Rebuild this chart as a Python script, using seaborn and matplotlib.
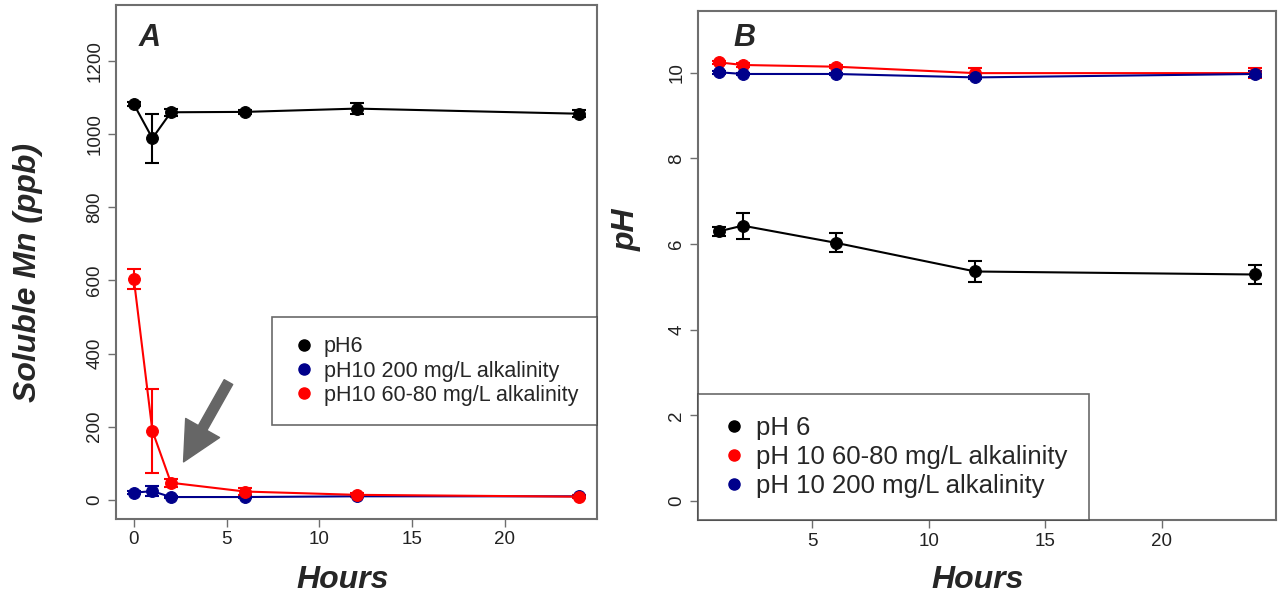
import numpy as np
import pandas as pd
import matplotlib
matplotlib.use("Agg")
import matplotlib.pyplot as plt
from matplotlib.lines import Line2D
import seaborn as sns

# ---------------- data ----------------
hours_a = [0, 1, 2, 6, 12, 24]
mn_ph6 = [1081, 988, 1059, 1060, 1069, 1055]
mn_ph6_err = [5, 67, 10, 6, 15, 9]
mn_ph10_200 = [20, 24, 8, 8, 10, 10]
mn_ph10_200_err = [4, 13, 3, 3, 3, 3]
mn_ph10_6080 = [604, 189, 47, 23, 14, 9]
mn_ph10_6080_err = [27, 115, 11, 10, 5, 4]

hours_b = [1, 2, 6, 12, 24]
ph_ph6 = [6.30, 6.43, 6.03, 5.36, 5.29]
ph_ph6_err = [0.10, 0.30, 0.22, 0.24, 0.22]
ph_ph10_6080 = [10.24, 10.18, 10.14, 9.99, 9.99]
ph_ph10_6080_err = [0.04, 0.04, 0.04, 0.12, 0.12]
ph_ph10_200 = [10.01, 9.97, 9.97, 9.89, 9.97]
ph_ph10_200_err = [0.03, 0.03, 0.03, 0.04, 0.06]

labels_a = ["pH6", "pH10 200 mg/L alkalinity", "pH10 60-80 mg/L alkalinity"]
labels_b = ["pH 6", "pH 10 60-80 mg/L alkalinity", "pH 10 200 mg/L alkalinity"]

BLACK = "#000000"
RED = "#FF0000"
BLUE = "#00008B"
GRAY = "#6E6E6E"

sns.set_theme(style="white")
plt.rcParams["font.family"] = ["Liberation Sans", "DejaVu Sans"]

fig = plt.figure(figsize=(12.78, 5.99), dpi=100)
axA = fig.add_axes([116/1278, 1-519/599, (597-116)/1278, (519-5)/599])
axB = fig.add_axes([698/1278, 1-520/599, (1276-698)/1278, (520-11)/599])


def draw(ax, x, y, err, color, label):
    df = pd.DataFrame({"x": x, "y": y})
    ax.errorbar(x, y, yerr=err, fmt="none", ecolor=color, elinewidth=1.5,
                capsize=5, capthick=1.5, zorder=2)
    sns.lineplot(data=df, x="x", y="y", ax=ax, color=color, linewidth=1.5,
                 marker="o", markersize=8.5, markeredgecolor=color,
                 label=label, legend=False, zorder=3)


# Panel A
draw(axA, hours_a, mn_ph6, mn_ph6_err, BLACK, labels_a[0])
draw(axA, hours_a, mn_ph10_200, mn_ph10_200_err, BLUE, labels_a[1])
draw(axA, hours_a, mn_ph10_6080, mn_ph10_6080_err, RED, labels_a[2])
axA.set_xlim(-0.96, 24.96)
axA.set_ylim(-52, 1352)
axA.set_xticks([0, 5, 10, 15, 20])
axA.set_yticks([0, 200, 400, 600, 800, 1000, 1200])

# Panel B
draw(axB, hours_b, ph_ph6, ph_ph6_err, BLACK, labels_b[0])
draw(axB, hours_b, ph_ph10_6080, ph_ph10_6080_err, RED, labels_b[1])
draw(axB, hours_b, ph_ph10_200, ph_ph10_200_err, BLUE, labels_b[2])
axB.set_xlim(0.08, 24.92)
axB.set_ylim(-0.44, 11.44)
axB.set_xticks([5, 10, 15, 20])
axB.set_yticks([0, 2, 4, 6, 8, 10])

for ax in (axA, axB):
    for s in ax.spines.values():
        s.set_color(GRAY)
        s.set_linewidth(1.5)
    ax.tick_params(axis="both", direction="out", length=6, width=1.0,
                   color=GRAY, labelcolor="#222222", labelsize=13.5,
                   bottom=True, left=True, pad=3)
    for lab in ax.get_yticklabels():
        lab.set_rotation(90)
        lab.set_va("center")
    ax.set_xlabel("Hours", fontsize=23, fontweight="bold", fontstyle="italic")
    ax.xaxis.label.set_va("center")
    ax.grid(False)

axA.xaxis.set_label_coords(0.472, -0.119)
axB.xaxis.set_label_coords(0.484, -0.118)

axA.set_ylabel("Soluble Mn (ppb)", fontsize=23, fontweight="bold", fontstyle="italic")
axA.yaxis.set_label_coords(-0.152, 0.48)
axB.set_ylabel("pH", fontsize=23, fontweight="bold", fontstyle="italic")
axB.yaxis.set_label_coords(-0.097, 0.57)

axA.text(0.07, 0.936, "A", transform=axA.transAxes, fontsize=22,
         fontweight="bold", fontstyle="italic", ha="center", va="center")
axB.text(0.081, 0.947, "B", transform=axB.transAxes, fontsize=22,
         fontweight="bold", fontstyle="italic", ha="center", va="center")

# arrow in panel A
axA.annotate("", xy=(2.68, 104), xytext=(5.1, 322),
             arrowprops=dict(facecolor="#666666", edgecolor="#666666",
                             width=7, headwidth=28, headlength=28))

# legends
hA = [Line2D([], [], linestyle="none", marker="o", markersize=8, color=c)
      for c in (BLACK, BLUE, RED)]
legA = axA.legend(hA, labels_a, loc="upper left",
                  bbox_to_anchor=((272-116)/481, (519-317)/514),
                  fontsize=15.5, frameon=True, fancybox=False,
                  handletextpad=0.3, handlelength=1.2, borderpad=0.9,
                  labelspacing=0.15, borderaxespad=0)
legA.get_frame().set_edgecolor("#444444")
legA.get_frame().set_linewidth(1.2)

hB = [Line2D([], [], linestyle="none", marker="o", markersize=8, color=c)
      for c in (BLACK, RED, BLUE)]
legB = axB.legend(hB, labels_b, loc="lower left", bbox_to_anchor=(0, 0),
                  fontsize=18.5, frameon=True, fancybox=False,
                  handletextpad=0.3, handlelength=1.1, borderpad=0.85,
                  labelspacing=0.2, borderaxespad=0)
legB.get_frame().set_edgecolor("#444444")
legB.get_frame().set_linewidth(1.2)

fig.savefig("out.png", dpi=100, facecolor="white")
